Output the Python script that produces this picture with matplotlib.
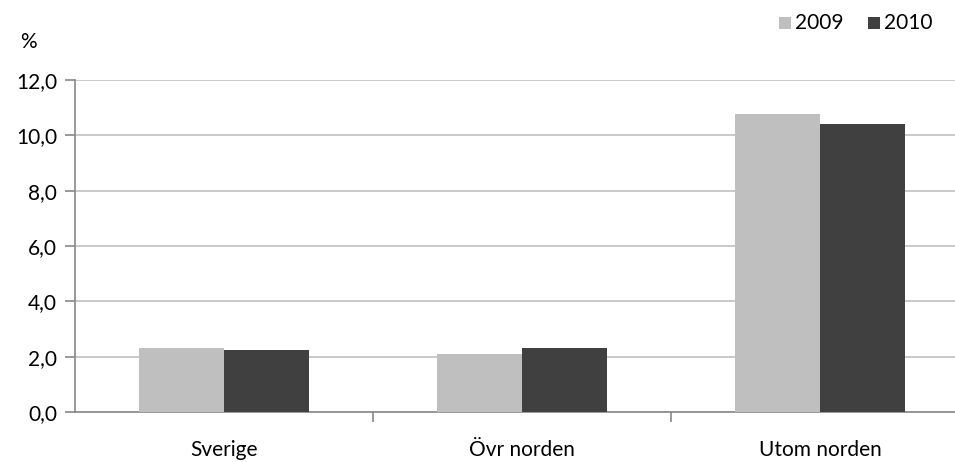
import numpy as np
import matplotlib.pyplot as plt
from matplotlib.ticker import FixedLocator
from matplotlib.patches import Rectangle

categories = ["Sverige", "Övr norden", "Utom norden"]
years = ["2009", "2010"]
values_2009 = [2.32, 2.10, 10.76]
values_2010 = [2.25, 2.32, 10.41]
yticks = [0, 2, 4, 6, 8, 10, 12]
colors = ["#bfbfbf", "#404040"]

plt.rcParams['font.family'] = ['Lato', 'DejaVu Sans']
fs = 15

fig = plt.figure(figsize=(9.55, 4.62), dpi=100)
ax = fig.add_axes([75 / 955, 50 / 462, 894 / 955, 332 / 462])

x = np.arange(len(categories))
w = 0.284
ax.bar(x - w / 2, values_2009, w, color=colors[0], zorder=3)
ax.bar(x + w / 2, values_2010, w, color=colors[1], zorder=3)

ax.set_xlim(-0.5, 2.5)
ax.set_ylim(0, 12)
ax.set_yticks(yticks)
ax.set_yticklabels([f"{v:.1f}".replace(".", ",") for v in yticks], fontsize=fs)
ax.yaxis.grid(True, color="#c0c0c0", linewidth=1.2, zorder=0)

ax.set_xticks(x)
ax.set_xticklabels(categories, fontsize=fs)
ax.tick_params(axis="x", length=0, pad=20)
ax.xaxis.set_minor_locator(FixedLocator([0.5, 1.5]))
ax.tick_params(axis="x", which="minor", length=7, color="#888888", width=1.2)
ax.tick_params(axis="y", length=7, color="#888888", width=1.2, pad=6)

for s in ["top", "right"]:
    ax.spines[s].set_visible(False)
for s in ["left", "bottom"]:
    ax.spines[s].set_color("#888888")
    ax.spines[s].set_linewidth(1.2)

fig.text(20 / 955, 1 - 42 / 462, "%", fontsize=fs, ha="left", va="center")

# legend
for i, (yr, c) in enumerate(zip(years, colors)):
    x0 = 779 + i * 89
    fig.patches.append(Rectangle((x0 / 955, 1 - 29 / 462), 12 / 955, 12 / 462,
                                 transform=fig.transFigure, facecolor=c, edgecolor="none"))
    fig.text((x0 + 16) / 955, 1 - 23 / 462, yr, fontsize=fs, ha="left", va="center")

fig.savefig("out.png", dpi=100)
